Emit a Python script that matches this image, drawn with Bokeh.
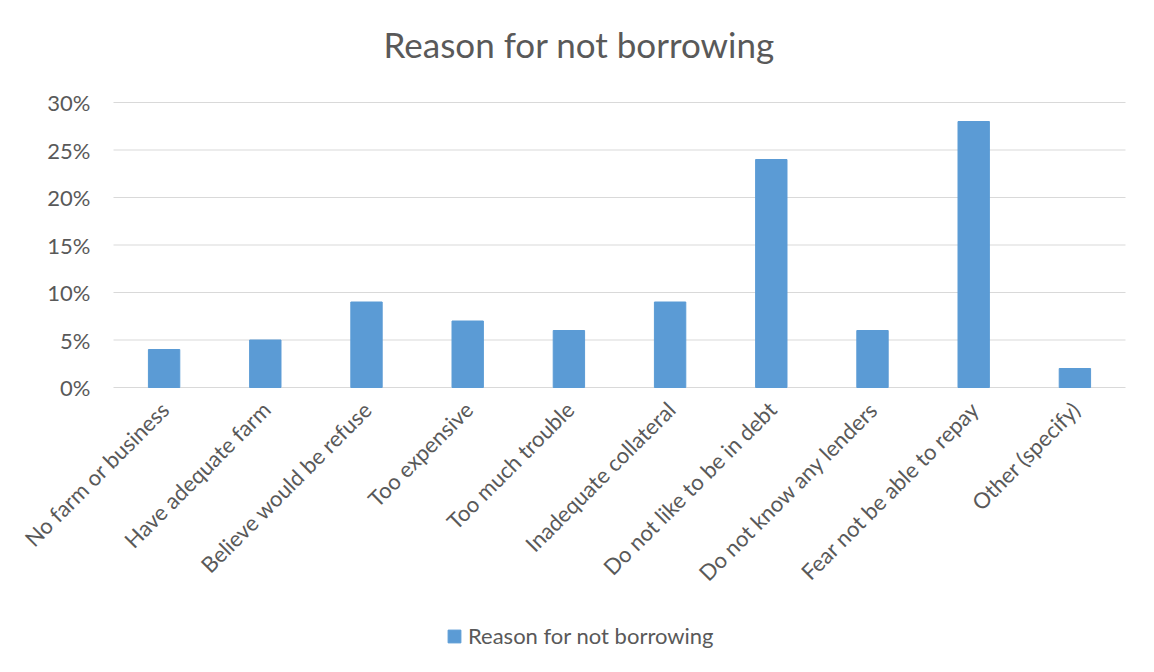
import math
from bokeh.plotting import figure
from bokeh.models import Range1d, Legend, LegendItem
from bokeh.core.properties import value
from bokeh.embed import file_html
from bokeh.resources import INLINE

categories = ["No farm or business", "Have adequate farm", "Believe would be refuse",
              "Too expensive", "Too much trouble", "Inadequate collateral",
              "Do not like to be in debt", "Do not know any lenders",
              "Fear not be able to repay", "Other (specify)"]
values = [0.04, 0.05, 0.09, 0.07, 0.06, 0.09, 0.24, 0.06, 0.28, 0.02]
y_ticks = [0, 0.05, 0.10, 0.15, 0.20, 0.25, 0.30]
y_tick_labels = ["0%", "5%", "10%", "15%", "20%", "25%", "30%"]
series_name = "Reason for not borrowing"
title_text = "Reason for not borrowing"

FONT = "Lato"
GREY = "#595959"
BLUE = "#5B9BD5"
GRID = "#D9D9D9"

W, H = 1138, 656
TOP = 88               # frame top (title panel height)
GRID_TOP = 102         # pixel row of the top (30%) gridline
ZERO_PX = 387          # pixel row of the 0% line
CAT_LEFT = 113         # pixel column where first category starts
CAT_W = 101.2          # pixel width of one category slot
PX_PER_UNIT = (ZERO_PX - GRID_TOP) / max(y_ticks)

xpos = list(range(len(categories)))
x_start = -0.5 - CAT_LEFT / CAT_W
x_end = x_start + W / CAT_W
y_start = -(H - ZERO_PX) / PX_PER_UNIT
y_end = max(y_ticks) + (GRID_TOP - TOP) / PX_PER_UNIT

p = figure(x_range=Range1d(x_start, x_end), y_range=Range1d(y_start, y_end),
           frame_width=W, frame_height=H - TOP,
           output_backend="svg", toolbar_location=None,
           min_border_left=0, min_border_right=0, min_border_top=TOP, min_border_bottom=0)

p.axis.visible = False
p.xgrid.grid_line_color = None
p.ygrid.grid_line_color = None
p.outline_line_color = None
p.border_fill_color = "white"
p.background_fill_color = "white"

# horizontal gridlines at the y ticks, spanning the category area
p.segment(x0=[-0.5] * len(y_ticks), x1=[len(categories) - 0.5] * len(y_ticks),
          y0=y_ticks, y1=y_ticks, line_color=GRID, line_width=1)

r = p.vbar(x=xpos, top=values, width=0.31, color=BLUE)

# y tick labels
p.text(x=[-0.5] * len(y_ticks), y=y_ticks, text=y_tick_labels, x_offset=-23,
       text_align="right", text_baseline="middle", text_font=value(FONT),
       text_font_size="22px", text_color=GREY)

# rotated category labels
p.text(x=xpos, y=[0] * len(categories), text=categories, angle=math.pi / 4,
       x_offset=1, y_offset=18, text_align="right", text_baseline="middle",
       text_font=value(FONT), text_font_size="22px", text_color=GREY)

p.title.text = title_text
p.title.align = "left"
p.title.vertical_align = "top"
p.title.text_font = FONT
p.title.text_font_size = "35px"
p.title.text_font_style = "normal"
p.title.text_color = GREY
p.title.offset = 383
p.title.standoff = 44

legend = Legend(items=[LegendItem(label=series_name, renderers=[r])],
                location=(446, 7), orientation="horizontal",
                label_text_font=FONT, label_text_font_size="22px", label_text_color=GREY,
                glyph_width=16, glyph_height=16, label_standoff=6,
                border_line_color=None, background_fill_alpha=0, margin=0, padding=4)
p.add_layout(legend, "center")

open("out.html", "w").write(file_html(p, INLINE))
